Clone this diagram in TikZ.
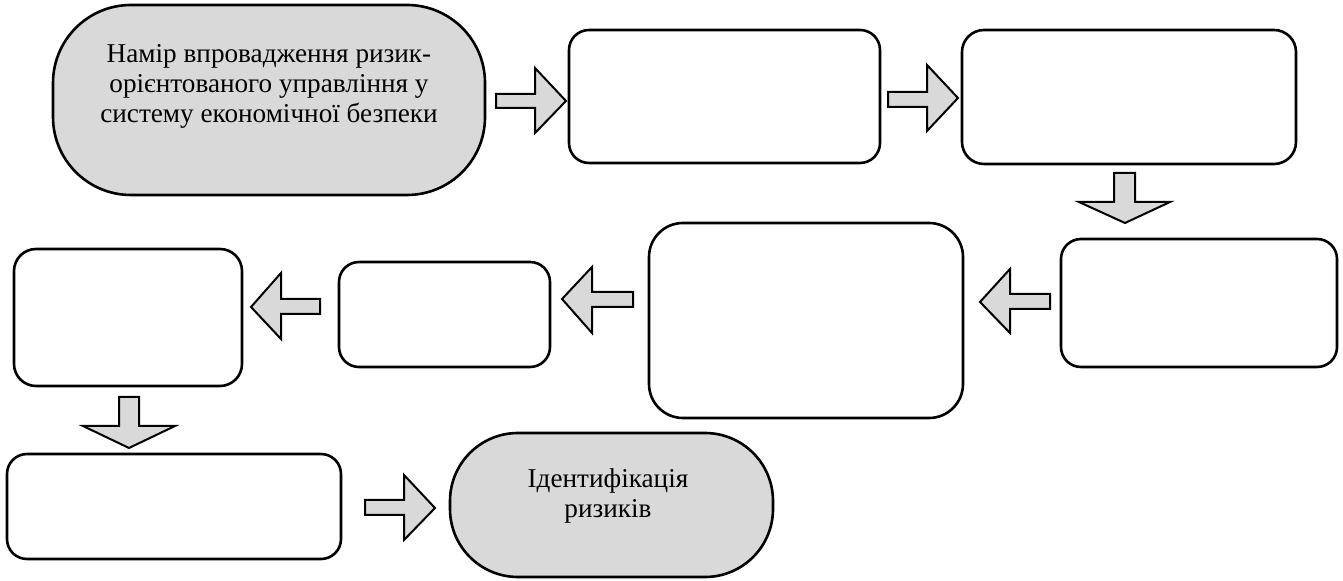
\documentclass[tikz,border=0pt]{standalone}
\usepackage{fontspec}
\setmainfont{Liberation Serif}
\usetikzlibrary{fit}
\definecolor{boxgray}{RGB}{217,217,217}
\tikzset{
  box/.style={draw=black, line width=1.3pt, fill=white, rectangle, inner sep=0pt, rounded corners=10pt},
  stadium/.style={box, fill=boxgray},
  label/.style={align=center, inner sep=0pt, font=\fontsize{13.6}{15}\selectfont},
  barrow/.style={draw=black, line width=1pt, fill=boxgray, line join=miter}
}
\begin{document}
\begin{tikzpicture}[x=0.5pt,y=-0.5pt]
\useasboundingbox (0,0) rectangle (1343,581);
% boxes
\node[stadium, rounded corners=39pt, fit={(53,5) (485,195)}] (A) {};
\node[box, fit={(569,30) (880,163)}] (B) {};
\node[box, rounded corners=11pt, fit={(962,30) (1296,164)}] (C) {};
\node[box, fit={(1061,239) (1337,367)}] (D) {};
\node[box, rounded corners=17pt, fit={(649,223) (963,418)}] (E) {};
\node[box, fit={(339,262) (550,367)}] (F) {};
\node[box, rounded corners=11pt, fit={(14,249) (242,386)}] (G) {};
\node[box, fit={(7,454) (341,559)}] (H) {};
\node[stadium, rounded corners=34pt, fit={(450,433) (773,577)}] (I) {};
% texts
\node[label] (Atext) at (269,86) {Намір впровадження ризик-\\орієнтованого управління у\\систему економічної безпеки};
\node[label] (Itext) at (608,496) {Ідентифікація\\ризиків};
% block arrows
% A -> B
\draw[barrow] (496,94) -- (535,94) -- (535,68) -- (566,101) -- (535,133) -- (535,108) -- (496,108) -- cycle;
% B -> C
\draw[barrow] (888,92) -- (927,92) -- (927,65) -- (958,98) -- (927,131) -- (927,107) -- (888,107) -- cycle;
% C -> D (down)
\draw[barrow] (1114,173) -- (1135,173) -- (1135,202) -- (1170,202) -- (1125,223) -- (1079,202) -- (1114,202) -- cycle;
% D -> E (left)
\draw[barrow] (1050,294) -- (1010,294) -- (1010,269) -- (980,302) -- (1010,333) -- (1010,309) -- (1050,309) -- cycle;
% E -> F (left)
\draw[barrow] (633,292) -- (592,292) -- (592,267) -- (562,299) -- (592,333) -- (592,307) -- (633,307) -- cycle;
% F -> G (left)
\draw[barrow] (320,299) -- (281,299) -- (281,273) -- (251,307) -- (281,339) -- (281,314) -- (320,314) -- cycle;
% G -> H (down)
\draw[barrow] (119,397) -- (139,397) -- (139,426) -- (175,426) -- (129,448) -- (83,426) -- (119,426) -- cycle;
% H -> I (right)
\draw[barrow] (365,500) -- (404,500) -- (404,475) -- (435,508) -- (404,540) -- (404,515) -- (365,515) -- cycle;
\end{tikzpicture}
\end{document}
